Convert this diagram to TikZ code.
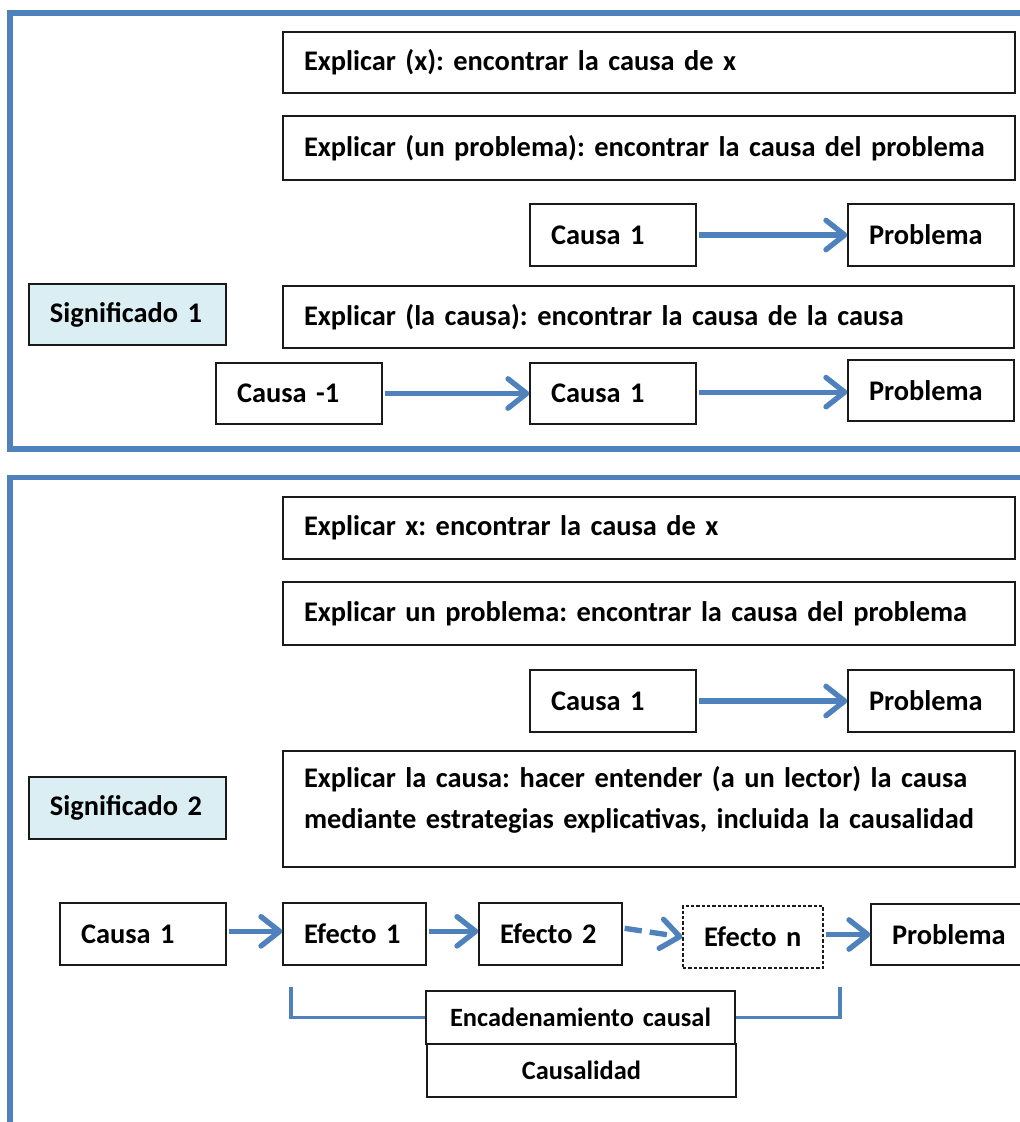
\documentclass[tikz,border=0pt]{standalone}
\usepackage{fontspec}
\setmainfont{Carlito}
\usetikzlibrary{arrows.meta}
\definecolor{frameblue}{HTML}{4F81BD}
\definecolor{paleblue}{HTML}{DBEEF4}
\definecolor{boxline}{HTML}{1A1A1A}

% \bx[opts]{name}{x1}{y1}{x2}{y2}{text}: a box spanning the given corners,
% text set left with a fixed inset
\newcommand\bx[7][]{%
  \pgfmathsetmacro\bxw{(#5-#3)*0.75}%
  \pgfmathsetmacro\bxh{(#6-#4)*0.75}%
  \pgfmathsetmacro\bxt{(#5-#3-42)*0.75}%
  \node[box,minimum width=\bxw pt,minimum height=\bxh pt,text width=\bxt pt,#1]
    (#2) at ({(#3+#5)/2},{(#4+#6)/2}) {#7};}

\tikzset{
  box/.style={draw=boxline,line width=1pt,rectangle,inner xsep=0pt,inner ysep=0pt,
    align=left,font=\fontsize{21.3}{31}\selectfont\bfseries\frenchspacing},
  meaning/.style={fill=paleblue},
  smalltxt/.style={align=center,font=\fontsize{19.8}{23}\selectfont\bfseries\frenchspacing},
  dashedbox/.style={dash pattern=on 2.4pt off 1.6pt,line width=0.8pt},
  frame/.style={draw=frameblue,line width=4pt},
  arr/.style={draw=frameblue,line width=4pt,shorten <=1.5pt,
    -{Straight Barb[length=14pt,width=22pt,round]}},
  darr/.style={arr,dash pattern=on 13pt off 6pt},
  brk/.style={draw=frameblue,line width=2.4pt}
}

\begin{document}
\begin{tikzpicture}[x=0.75pt,y=-0.75pt]
\clip (0,0) rectangle (1020,1122);
\fill[white] (0,0) rectangle (1020,1122);

% ---------- first meaning ----------
\draw[frame] (10,13) rectangle (1040,449);
\bx{ta}{283}{32}{1015}{93}{Explicar (x): encontrar la causa de x}
\bx{tb}{283}{116}{1015}{180}{Explicar (un problema): encontrar la causa del problema}
\bx{tcc}{530}{204}{696}{266}{Causa 1}
\bx{tcp}{848}{204}{1014}{266}{Problema}
\bx[meaning]{sa}{29}{284}{226}{345}{Significado 1}
\bx{td}{283}{286}{1014}{348}{Explicar (la causa): encontrar la causa de la causa}
\bx{tem}{216}{363}{382}{424}{Causa -1}
\bx{tec}{530}{363}{696}{424}{Causa 1}
\bx{tep}{848}{360}{1014}{421}{Problema}

\draw[arr] (tcc) -- (tcp);
\draw[arr] (tem) -- (tec);
\draw[arr] ([yshift=1pt]tec.east) -- ([yshift=1pt]tec.east -| tep.west);

% ---------- second meaning ----------
\draw[frame] (10,477.5) rectangle (1040,1160);
\bx{ba}{283}{497}{1015}{559}{Explicar x: encontrar la causa de x}
\bx{bb}{283}{582}{1015}{645}{Explicar un problema: encontrar la causa del problema}
\bx{bcc}{530}{670}{696}{732}{Causa 1}
\bx{bcp}{848}{670}{1014}{732}{Problema}
\bx[meaning]{sb}{29}{777}{226}{839}{Significado 2}
\bx{bd}{283}{751}{1015}{867}{Explicar la causa: hacer entender (a un lector) la causa\\
  mediante estrategias explicativas, incluida la causalidad\rule[-17pt]{0pt}{17pt}}
\bx{bec}{60}{903}{226}{965}{Causa 1}
\bx{ef1}{283}{903}{426}{965}{Efecto 1}
\bx{ef2}{479}{903}{622}{965}{Efecto 2}
\bx[dashedbox]{efn}{683}{906}{823}{968}{Efecto n}
\bx{bep}{871}{904}{1045}{965}{Problema}
\bx[smalltxt]{enc}{426}{991}{735}{1044}{Encadenamiento causal}
\bx[smalltxt]{cau}{427}{1044}{736}{1097}{Causalidad}

\draw[arr] (bcc) -- (bcp);
\draw[arr] ([yshift=2pt]bec.east) -- ([yshift=2pt]ef1.west);
\draw[arr] ([yshift=2pt]ef1.east) -- ([yshift=2pt]ef2.west);
\draw[darr] ([yshift=4.5pt]ef2.east) -- (efn.west);
\draw[arr] (efn.east |- bep.west) -- (bep.west);

% bracket grouping the causal chain
\coordinate (bl) at (291,987);
\coordinate (br) at (840,987);
\draw[brk] (bl) |- (enc.west);
\draw[brk] (br) |- (enc.east);
\end{tikzpicture}
\end{document}
